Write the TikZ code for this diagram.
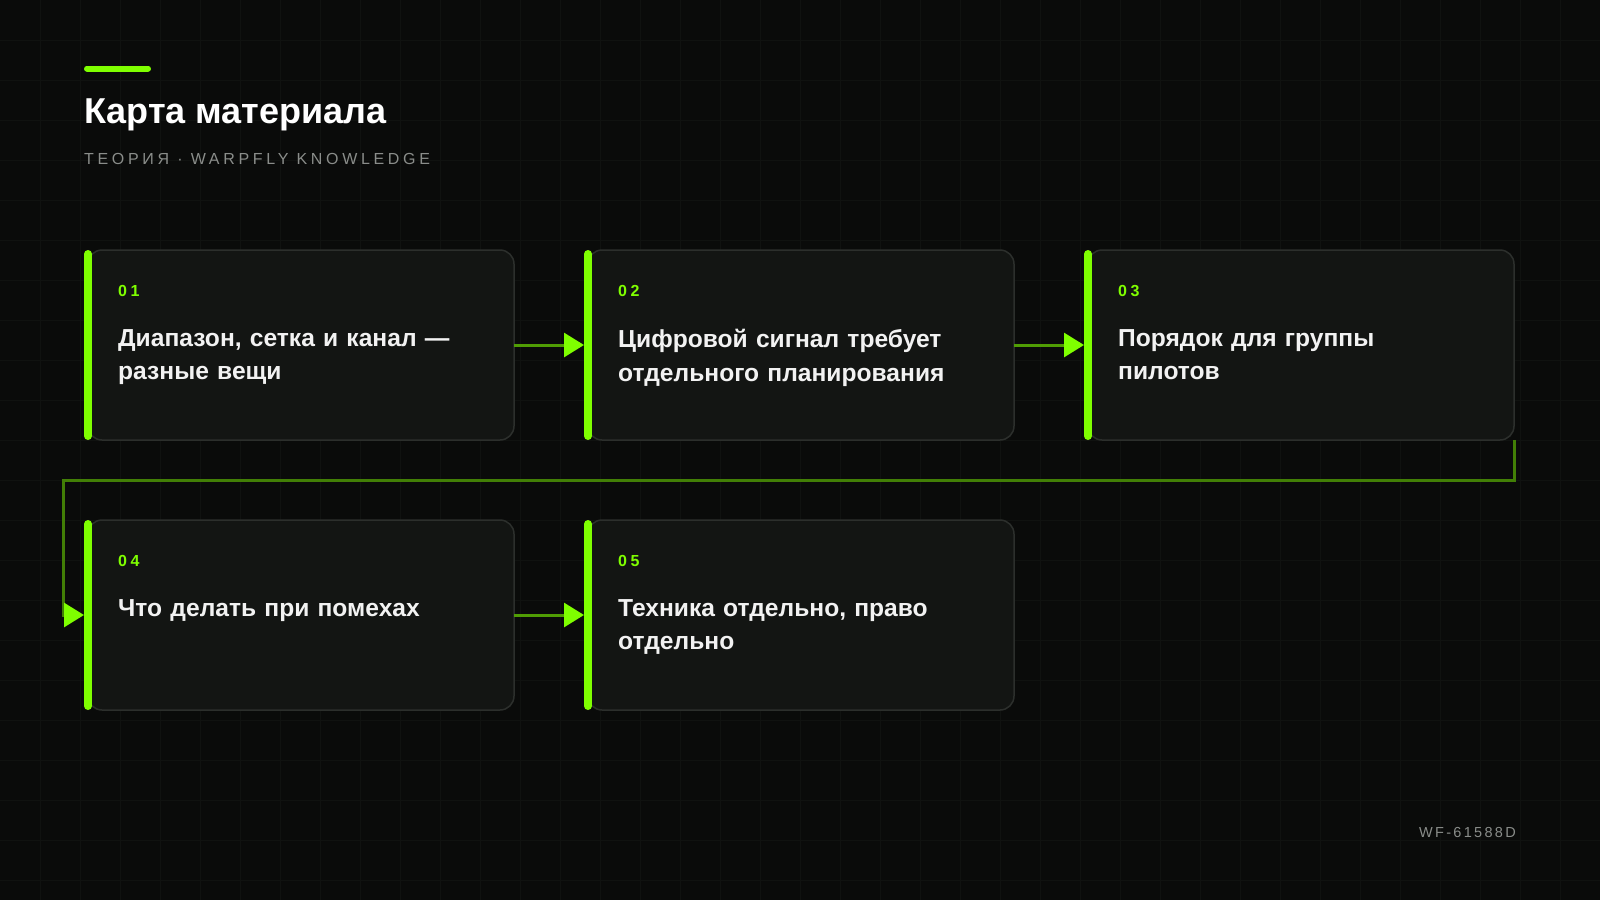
\documentclass[tikz,border=0pt]{standalone}
\usepackage{fontspec}
\setmainfont{Liberation Sans}
\newfontfamily\spacedfont[LetterSpace=23]{Liberation Sans}
\newfontfamily\numfont[LetterSpace=22]{Liberation Sans}
\newfontfamily\codefont[LetterSpace=16]{Liberation Sans}
\usetikzlibrary{arrows.meta}
\definecolor{bg}{HTML}{0A0B0A}
\definecolor{gridc}{HTML}{101210}
\definecolor{lime}{HTML}{7FFF00}
\definecolor{boxfill}{HTML}{131513}
\definecolor{boxline}{HTML}{2C2F2C}
\definecolor{shaft}{HTML}{509D04}
\definecolor{loopc}{HTML}{427F06}
\definecolor{subgray}{HTML}{8A8D8A}
\definecolor{textw}{HTML}{F2F2F2}
\begin{document}
\begin{tikzpicture}[x=1pt,y=-1pt,
  card/.style={draw=boxline, line width=1.5pt, fill=boxfill, rounded corners=14pt,
    minimum width=426pt, minimum height=190pt, anchor=north west, inner sep=0pt, outer sep=0pt},
  accent/.style={draw=lime, line width=8pt, line cap=round},
  numlabel/.style={anchor=base west, inner sep=0pt, text=lime,
    font=\numfont\bfseries\fontsize{16}{18}\selectfont},
  cardtext/.style={anchor=north west, inner sep=0pt, text=textw, text width=400pt,
    align=left, font=\bfseries\fontsize{24.6}{33.5}\selectfont},
  link/.style={draw=shaft, line width=3pt, -{Triangle[length=20pt,width=24pt,color=lime]}, shorten >=4pt},
  looplink/.style={draw=loopc, line width=3pt, line join=miter, -{Triangle[length=20pt,width=24pt,color=lime]}, shorten >=4pt},
]
\useasboundingbox (0,0) rectangle (1600,900);
\fill[bg] (0,0) rectangle (1600,900);
\foreach \gx in {40,80,...,1560} {\draw[gridc, line width=1pt] (\gx,0) -- (\gx,900);}
\foreach \gy in {40,80,...,880} {\draw[gridc, line width=1pt] (0,\gy) -- (1600,\gy);}

% header
\draw[lime, line width=6pt, line cap=round] (87,68.5) -- (148,68.5);
\node[anchor=base west, inner sep=0pt, text=white, font=\bfseries\fontsize{36}{40}\selectfont] (title) at (84,123) {Карта материала};
\node[anchor=base west, inner sep=0pt, text=subgray, font=\spacedfont\fontsize{16}{20}\selectfont] (subtitle) at (84,164) {ТЕОРИЯ · WARPFLY KNOWLEDGE};

% cards
\node[card] (b1) at (88,250) {};
\node[card] (b2) at (588,250) {};
\node[card] (b3) at (1088,250) {};
\node[card] (b4) at (88,520) {};
\node[card] (b5) at (588,520) {};

\foreach \b in {b1,b2,b3,b4,b5} {
  \draw[accent] ([yshift=-4pt]\b.north west) -- ([yshift=4pt]\b.south west);
}

\node[numlabel] (n1) at ([shift={(30,46)}]b1.north west) {01};
\node[numlabel] (n2) at ([shift={(30,46)}]b2.north west) {02};
\node[numlabel] (n3) at ([shift={(30,46)}]b3.north west) {03};
\node[numlabel] (n4) at ([shift={(30,46)}]b4.north west) {04};
\node[numlabel] (n5) at ([shift={(30,46)}]b5.north west) {05};

\node[cardtext] (t1) at ([shift={(30,79)}]b1.north west) {Диапазон, сетка и канал —\\разные вещи};
\node[cardtext] (t2) at ([shift={(30,79)}]b2.north west) {Цифровой сигнал требует\\отдельного планирования};
\node[cardtext] (t3) at ([shift={(30,79)}]b3.north west) {Порядок для группы\\пилотов};
\node[cardtext] (t4) at ([shift={(30,79)}]b4.north west) {Что делать при помехах};
\node[cardtext] (t5) at ([shift={(30,79)}]b5.north west) {Техника отдельно, право\\отдельно};

% connectors
\draw[link] (b1.east) -- (b2.west);
\draw[link] (b2.east) -- (b3.west);
\draw[link] (b4.east) -- (b5.west);
\coordinate (lane) at (63,480);
\draw[looplink] (b3.south east) |- (lane) |- (b4.west);

% code
\node[anchor=base east, inner sep=0pt, text=subgray, font=\codefont\fontsize{14.5}{16}\selectfont] (code) at (1516,837) {WF-61588D};
\end{tikzpicture}
\end{document}
